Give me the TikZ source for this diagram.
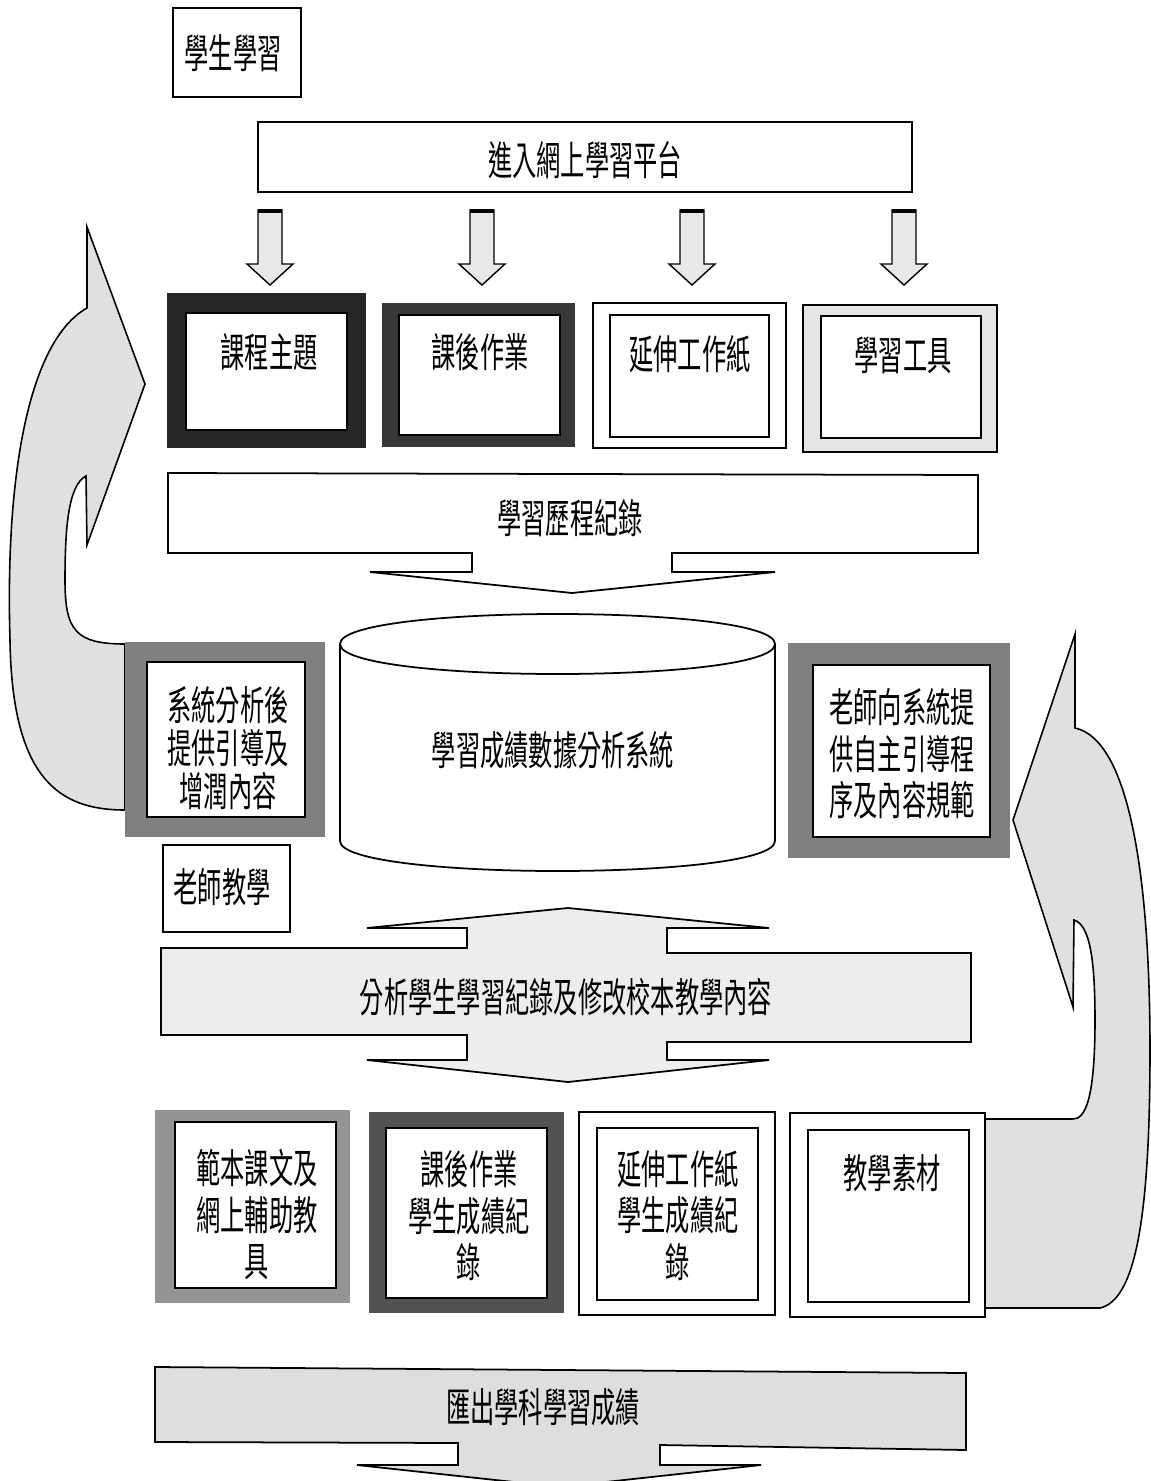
\documentclass[tikz,border=0pt]{standalone}
\usepackage{fontspec}
\setmainfont{Noto Sans CJK TC}[FakeStretch=0.6]
\begin{document}
\begin{tikzpicture}[x=0.02cm,y=-0.02cm,
  txt/.style={font=\fontsize{23}{25}\selectfont, inner sep=0pt, align=center},
  txtb/.style={font=\fontsize{23}{26.5}\selectfont, inner sep=0pt, align=center},
  ln/.style={line width=1pt, draw=black},
  bigarrow/.style={fill=black!12, draw=black, line width=0.9pt},
  smallarrow/.style={fill=black!9, draw=black, line width=0.8pt},
  framein/.style={fill=white, draw=black, line width=1pt}]
\useasboundingbox (0,0) rectangle (1151,1481);
\fill[white] (0,0) rectangle (1151,1481);

% ---------- curved arrows (behind boxes) ----------
\filldraw[bigarrow] (125,810) .. controls (60,810) and (12,780) .. (10,640)
  .. controls (5,470) and (30,340) .. (87,308) -- (87,227) -- (145,384) -- (87,545) -- (86,476)
  .. controls (68,485) and (65,530) .. (65,580) .. controls (65,630) and (75,644) .. (125,644) -- cycle;
\filldraw[bigarrow] (985,1308) -- (1100,1308) .. controls (1135,1300) and (1150,1220) .. (1150,1050)
  .. controls (1150,880) and (1130,740) .. (1075,728) -- (1075,634) -- (1013,820) -- (1073,1007) -- (1074,920)
  .. controls (1090,925) and (1095,960) .. (1095,1020) .. controls (1095,1100) and (1085,1119) .. (1073,1119)
  -- (985,1119) -- cycle;

% ---------- header label ----------
\draw[ln] (173,8) rectangle (301,97);
\node[txt] (studlab) at (233,53) {學生學習};

% ---------- platform ----------
\draw[ln] (258,122) rectangle (912,192);
\node[txt] (platform) at (585,160) {進入網上學習平台};

% ---------- four small down arrows ----------
\foreach \cx in {270,482,692,904}{
  \filldraw[smallarrow] (\cx-12,210) -- (\cx+12,210) -- (\cx+12,264) -- (\cx+23,264) -- (\cx,285)
     -- (\cx-23,264) -- (\cx-12,264) -- cycle;
  \draw[line width=2.5pt] (\cx-12,211) -- (\cx+12,211);
}

% ---------- top row boxes ----------
\fill[black!85] (167,293) rectangle (366,448);
\filldraw[framein] (186,313) rectangle (347,430);
\node[txt] (topic) at (269,352) {課程主題};

\fill[black!78] (382,303) rectangle (575,447);
\filldraw[framein] (399,315) rectangle (560,435);
\node[txt] (homework) at (480,352) {課後作業};

\draw[ln] (593,303) rectangle (786,448);
\draw[ln, line width=1.3pt] (610,315) rectangle (769,437);
\node[txt] (worksheet) at (690,354) {延伸工作紙};

\filldraw[fill=black!10, draw=black, line width=1pt] (803,305) rectangle (997,452);
\filldraw[framein, line width=1.3pt] (821,316) rectangle (981,438);
\node[txt] (tools) at (903,355) {學習工具};

% ---------- learning record with down arrow ----------
\filldraw[fill=white, draw=black, line width=1pt] (168,473) -- (978,475) -- (978,553) -- (672,553) -- (672,572)
  -- (775,572) -- (572,593) -- (370,572) -- (472,572) -- (472,553) -- (168,553) -- cycle;
\node[txt] (record) at (570,518) {學習歷程紀錄};

% ---------- database cylinder ----------
\filldraw[fill=white, draw=black, line width=1pt] (340,644) -- (340,841) .. controls (340,881) and (775,881) .. (775,841)
  -- (775,644) .. controls (775,604) and (340,604) .. (340,644) -- cycle;
\draw[line width=1pt] (340,644) .. controls (340,684) and (775,684) .. (775,644);
\node[txt] (db) at (553,750) {學習成績數據分析系統};

% ---------- side boxes ----------
\fill[black!50] (125,642) rectangle (325,837);
\filldraw[framein] (147,662) rectangle (305,817);
\node[txt, font=\fontsize{23}{24.5}\selectfont] (guide) at (228,748) {系統分析後\\提供引導及\\增潤內容};

\fill[black!50] (788,643) rectangle (1010,858);
\filldraw[framein] (813,665) rectangle (990,837);
\node[txt, font=\fontsize{23}{26.5}\selectfont] (teacherin) at (902,754) {老師向系統提\\供自主引導程\\序及內容規範};

% ---------- teacher label ----------
\draw[ln] (163,845) rectangle (290,932);
\node[txt] (teachlab) at (222,887) {老師教學};

% ---------- analysis double arrow ----------
\filldraw[fill=black!7, draw=black, line width=1pt] (161,948) -- (467,948) -- (467,928) -- (367,928) -- (568,908)
  -- (769,928) -- (667,928) -- (667,953) -- (971,953) -- (971,1042) -- (667,1042) -- (667,1060)
  -- (769,1060) -- (568,1082) -- (367,1060) -- (467,1060) -- (467,1035) -- (161,1035) -- cycle;
\node[txt] (analysis) at (566,997) {分析學生學習紀錄及修改校本教學內容};

% ---------- bottom row boxes ----------
\fill[black!42] (155,1110) rectangle (350,1303);
\filldraw[framein] (175,1122) rectangle (336,1288);
\node[txtb, anchor=north] (texts) at (257,1149) {範本課文及\\網上輔助教\\具};

\fill[black!68] (369,1112) rectangle (564,1313);
\filldraw[framein] (386,1128) rectangle (547,1298);
\node[txtb, anchor=north] (hwscore) at (469,1150) {課後作業\\學生成績紀\\錄};

\draw[ln] (579,1112) rectangle (775,1315);
\draw[ln, line width=1.3pt] (597,1128) rectangle (758,1300);
\node[txtb, anchor=north] (wsscore) at (678,1150) {延伸工作紙\\學生成績紀\\錄};

\filldraw[fill=white, draw=black, line width=1pt] (790,1113) rectangle (985,1317);
\draw[ln, line width=1.3pt] (808,1130) rectangle (969,1302);
\node[txtb, anchor=north] (material) at (892,1154) {教學素材};

% ---------- export with down arrow ----------
\filldraw[fill=black!13, draw=black, line width=1pt] (155,1367) -- (966,1373) -- (966,1450) -- (660,1445) -- (660,1465)
  -- (761,1465) -- (560,1487) -- (357,1465) -- (458,1465) -- (458,1443) -- (155,1442) -- cycle;
\node[txt] (export) at (543,1407) {匯出學科學習成績};
\end{tikzpicture}
\end{document}
